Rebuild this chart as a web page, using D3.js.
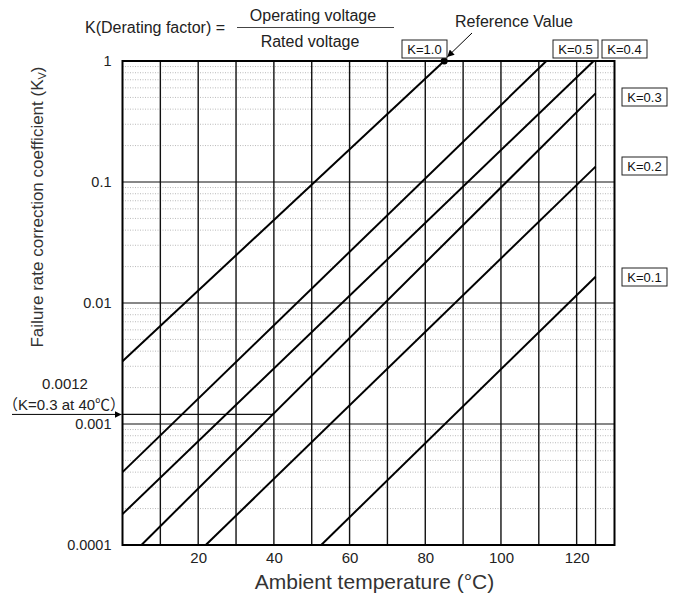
<!DOCTYPE html>
<html>
<head>
<meta charset="utf-8">
<script src="https://cdn.jsdelivr.net/npm/d3@7"></script>
<style>
  body { margin: 0; background: #fff; }
  svg { font-family: "Liberation Sans", Arial, sans-serif; }
</style>
</head>
<body>
<svg id="svgId"></svg>
<script>
// 横轴刻度 (°C)
var xTicks = [20, 40, 60, 80, 100, 120];
var xGrid = [10, 20, 30, 40, 50, 60, 70, 80, 90, 100, 110, 120, 125];
// 纵轴刻度
var yTicks = [1, 0.1, 0.01, 0.001, 0.0001];
var yTickLabels = ["1", "0.1", "0.01", "0.001", "0.0001"];

// 各条降额线 (温度, 系数) 端点
var lineNames = ["K=1.0", "K=0.5", "K=0.4", "K=0.3", "K=0.2", "K=0.1"];
var lineStart = [[0, 0.0033], [0, 0.0004], [0, 0.00018], [5, 0.0001], [22, 0.0001], [52.5, 0.0001]];
var lineEnd = [[85, 1], [112, 1], [124.5, 1], [125, 0.54], [125, 0.134], [125, 0.0165]];

// 参考值 和 标注
var refPoint = [85, 1];
var markTemp = 40, markValue = 0.0012;

var svgWidth = 675, svgHeight = 595;
var svg = d3.select("#svgId").attr("width", svgWidth).attr("height", svgHeight);

var x = d3.scaleLinear().domain([0, 130]).range([122.5, 614.5]);
var y = d3.scaleLog().domain([0.0001, 1]).range([545, 61]);

// 细虚线 (每个十进位 2..9)
var minor = [];
yTicks.slice(1).forEach(function (d) {
    for (var m = 2; m <= 9; m++) minor.push(d * m);
});
svg.append("g").selectAll("line").data(minor).enter().append("line")
    .attr("x1", x(0)).attr("x2", x(130))
    .attr("y1", function (d) { return y(d); })
    .attr("y2", function (d) { return y(d); })
    .attr("stroke", "#a8a8a8").attr("stroke-width", 0.8)
    .attr("stroke-dasharray", "1,1.5");

// 十进位横线
svg.append("g").selectAll("line").data([0.1, 0.01, 0.001]).enter().append("line")
    .attr("x1", x(0)).attr("x2", x(130))
    .attr("y1", function (d) { return y(d); })
    .attr("y2", function (d) { return y(d); })
    .attr("stroke", "#111").attr("stroke-width", 1.1);

// 竖线
svg.append("g").selectAll("line").data(xGrid).enter().append("line")
    .attr("x1", function (d) { return x(d); })
    .attr("x2", function (d) { return x(d); })
    .attr("y1", y(1)).attr("y2", y(0.0001))
    .attr("stroke", "#111").attr("stroke-width", 1.4);

// 0.0012 标注线
svg.append("line")
    .attr("x1", x(0)).attr("x2", x(markTemp))
    .attr("y1", y(markValue)).attr("y2", y(markValue))
    .attr("stroke", "#111").attr("stroke-width", 1.1);

// 边框
svg.append("rect")
    .attr("x", x(0)).attr("y", y(1))
    .attr("width", x(130) - x(0)).attr("height", y(0.0001) - y(1))
    .attr("fill", "none").attr("stroke", "#000").attr("stroke-width", 2);

// 降额线
var line = d3.line().x(function (d) { return x(d[0]); }).y(function (d) { return y(d[1]); });
svg.append("g").selectAll("path").data(lineNames).enter().append("path")
    .attr("d", function (d, i) { return line([lineStart[i], lineEnd[i]]); })
    .attr("fill", "none").attr("stroke", "#000").attr("stroke-width", 2);

// 坐标轴
var xAxis = svg.append("g")
    .attr("transform", "translate(0," + y(0.0001) + ")")
    .call(d3.axisBottom(x).tickValues(xTicks).tickSize(0).tickPadding(7));
xAxis.select(".domain").remove();
xAxis.selectAll("text").attr("font-size", 15).attr("fill", "#222")
    .attr("font-family", "Liberation Sans, Arial, sans-serif");

var yAxis = svg.append("g")
    .attr("transform", "translate(" + (x(0) - 11) + ",0)")
    .call(d3.axisLeft(y).tickValues(yTicks).tickSize(0).tickPadding(0)
        .tickFormat(function (d, i) { return yTickLabels[i]; }));
yAxis.select(".domain").remove();
yAxis.selectAll("text").attr("font-size", 14.5).attr("fill", "#222")
    .attr("font-family", "Liberation Sans, Arial, sans-serif");

// 轴标题
svg.append("text")
    .attr("x", (x(0) + x(130)) / 2 + 6).attr("y", 589)
    .attr("text-anchor", "middle").attr("font-size", 21).attr("fill", "#333")
    .text("Ambient temperature (°C)");

var yt = svg.append("text")
    .attr("transform", "translate(43,207) rotate(-90)")
    .attr("text-anchor", "middle").attr("font-size", 17).attr("fill", "#333");
yt.append("tspan").text("Failure rate correction coefficient (K");
yt.append("tspan").attr("font-size", 11).attr("dy", 3).text("V");
yt.append("tspan").attr("dy", -3).text(")");

// 公式
svg.append("text").attr("x", 85).attr("y", 33).attr("font-size", 16).attr("fill", "#222")
    .text("K(Derating factor) =");
svg.append("text").attr("x", 313).attr("y", 21).attr("text-anchor", "middle")
    .attr("font-size", 16).attr("fill", "#222").text("Operating voltage");
svg.append("line").attr("x1", 237).attr("x2", 394).attr("y1", 27.5).attr("y2", 27.5)
    .attr("stroke", "#444").attr("stroke-width", 1);
svg.append("text").attr("x", 310).attr("y", 47).attr("text-anchor", "middle")
    .attr("font-size", 16).attr("fill", "#222").text("Rated voltage");

// 参考值
svg.append("text").attr("x", 514).attr("y", 27).attr("text-anchor", "middle")
    .attr("font-size", 16).attr("fill", "#222").text("Reference Value");
svg.append("defs").append("marker")
    .attr("id", "arr").attr("viewBox", "0 0 10 10").attr("refX", 10).attr("refY", 5)
    .attr("markerWidth", 7).attr("markerHeight", 7).attr("orient", "auto")
    .append("path").attr("d", "M0,0L10,5L0,10z").attr("fill", "#000");
svg.append("line").attr("x1", 472).attr("y1", 33)
    .attr("x2", x(refPoint[0]) + 3).attr("y2", y(refPoint[1]) - 4)
    .attr("stroke", "#000").attr("stroke-width", 1).attr("marker-end", "url(#arr)");
svg.append("circle").attr("cx", x(refPoint[0])).attr("cy", y(refPoint[1])).attr("r", 3.5)
    .attr("fill", "#000");

// 标签框
var boxPos = [[402, 40], [553, 40], [602, 40], [622, 88], [622, 157], [622, 268]];
var boxes = svg.append("g").selectAll("g").data(lineNames).enter().append("g")
    .attr("transform", function (d, i) { return "translate(" + boxPos[i][0] + "," + boxPos[i][1] + ")"; });
boxes.append("rect").attr("width", 45).attr("height", 18)
    .attr("fill", "#fff").attr("stroke", "#222").attr("stroke-width", 1);
boxes.append("text").attr("x", 22.5).attr("y", 14).attr("text-anchor", "middle")
    .attr("font-size", 13).attr("fill", "#111").text(function (d) { return d; });

// 0.0012 标注
svg.append("text").attr("x", 65).attr("y", 389).attr("text-anchor", "middle")
    .attr("font-size", 15).attr("fill", "#222").text("0.0012");
svg.append("text").attr("x", 64).attr("y", 410).attr("text-anchor", "middle")
    .attr("font-size", 15).attr("fill", "#222")
    .attr("font-family", "Liberation Sans, Noto Sans CJK JP, sans-serif")
    .text("（K=0.3 at 40℃）");
svg.append("line").attr("x1", 12).attr("x2", x(0) - 1)
    .attr("y1", y(markValue)).attr("y2", y(markValue))
    .attr("stroke", "#000").attr("stroke-width", 1).attr("marker-end", "url(#arr)");
</script>
</body>
</html>
